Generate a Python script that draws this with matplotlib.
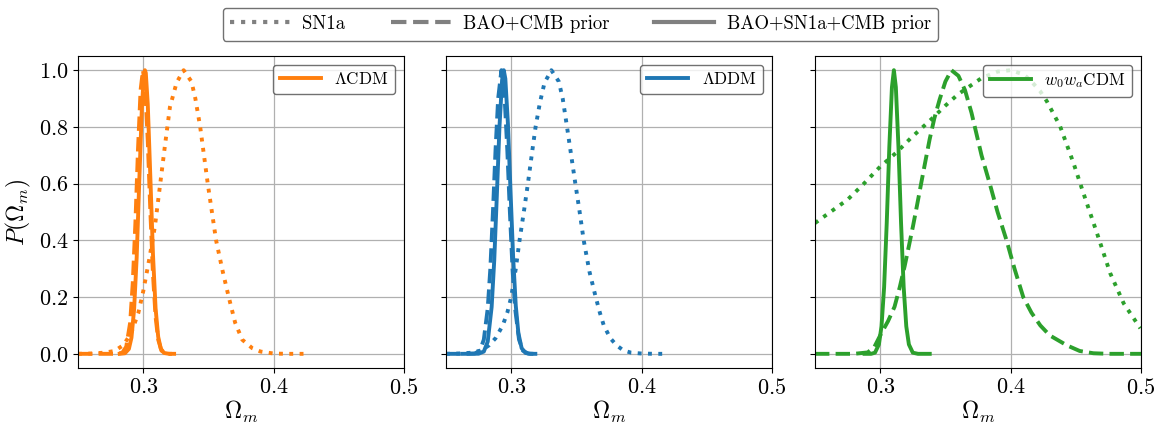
import matplotlib.pyplot as plt
from matplotlib.lines import Line2D

plt.rcParams.update({
    'font.family': 'serif',
    'font.serif': ['cmr10'],
    'mathtext.fontset': 'cm',
    'axes.formatter.use_mathtext': True,
    'axes.unicode_minus': False,
})

# LCDM
lcdm_sn_x = [0.25, 0.26, 0.27, 0.278, 0.2846, 0.2905, 0.2962, 0.30, 0.3045, 0.309, 0.3128, 0.3167,
             0.3205, 0.3256, 0.331, 0.337, 0.34, 0.3437, 0.3495, 0.3559, 0.361, 0.3656, 0.3705,
             0.3759, 0.3836, 0.39, 0.40, 0.41, 0.423]
lcdm_sn_y = [0.0, 0.001, 0.004, 0.01, 0.03, 0.07, 0.143, 0.22, 0.33, 0.45, 0.59, 0.735,
             0.87, 0.956, 1.0, 0.96, 0.9, 0.8, 0.6, 0.4, 0.29, 0.2, 0.11,
             0.05, 0.02, 0.008, 0.001, 0.0, 0.0]
lcdm_bao_x = [0.25, 0.27, 0.28, 0.284, 0.287, 0.290, 0.292, 0.294, 0.296, 0.298, 0.2998, 0.3015,
              0.3035, 0.3055, 0.3075, 0.3095, 0.3115, 0.314, 0.318, 0.322]
lcdm_bao_y = [0.0, 0.0, 0.0, 0.004, 0.025, 0.11, 0.25, 0.46, 0.72, 0.93, 1.0, 0.94,
              0.75, 0.50, 0.28, 0.13, 0.05, 0.011, 0.0, 0.0]
lcdm_all_x = [0.282, 0.286, 0.289, 0.291, 0.293, 0.295, 0.297, 0.299, 0.3005, 0.3013, 0.302, 0.3035,
              0.3055, 0.3075, 0.3095, 0.3115, 0.3135, 0.316, 0.320, 0.3237]
lcdm_all_y = [0.0, 0.002, 0.017, 0.057, 0.155, 0.34, 0.61, 0.87, 0.98, 1.0, 0.99, 0.88,
              0.62, 0.35, 0.16, 0.06, 0.018, 0.003, 0.0, 0.0]

# LDDM
lddm_sn_x = [0.25, 0.26, 0.27, 0.277, 0.283, 0.288, 0.2935, 0.297, 0.300, 0.3035, 0.3064, 0.31,
             0.3128, 0.316, 0.3187, 0.322, 0.3255, 0.3308, 0.3365, 0.3395, 0.3428, 0.346, 0.3492,
             0.3525, 0.3556, 0.360, 0.3648, 0.368, 0.371, 0.376, 0.3808, 0.386, 0.392, 0.40,
             0.41, 0.42]
lddm_sn_y = [0.0, 0.001, 0.004, 0.012, 0.03, 0.055, 0.1, 0.145, 0.2, 0.3, 0.4, 0.51,
             0.6, 0.71, 0.8, 0.885, 0.955, 1.0, 0.96, 0.9, 0.8, 0.7, 0.6,
             0.5, 0.4, 0.29, 0.2, 0.145, 0.1, 0.055, 0.03, 0.012, 0.004, 0.001,
             0.0, 0.0]
lddm_bao_x = [0.25, 0.265, 0.272, 0.276, 0.279, 0.282, 0.284, 0.286, 0.288, 0.290, 0.2925, 0.295,
              0.297, 0.299, 0.301, 0.303, 0.306, 0.309, 0.313, 0.317]
lddm_bao_y = [0.0, 0.0, 0.001, 0.011, 0.05, 0.16, 0.30, 0.50, 0.72, 0.90, 1.0, 0.90,
              0.72, 0.50, 0.30, 0.16, 0.05, 0.011, 0.001, 0.0]
lddm_all_x = [0.2625, 0.275, 0.279, 0.282, 0.285, 0.287, 0.289, 0.291, 0.293, 0.2943, 0.2955, 0.2975,
              0.2995, 0.3015, 0.3035, 0.3055, 0.308, 0.311, 0.3145, 0.3185]
lddm_all_y = [0.0, 0.0004, 0.008, 0.043, 0.165, 0.33, 0.56, 0.80, 0.965, 1.0, 0.97, 0.81,
              0.57, 0.34, 0.17, 0.073, 0.02, 0.003, 0.0, 0.0]

# w0waCDM
w0wa_sn_x = [0.25, 0.2751, 0.2875, 0.30, 0.3125, 0.3238, 0.3392, 0.35, 0.3597, 0.3777, 0.39, 0.40,
             0.41, 0.415, 0.4225, 0.4277, 0.4379, 0.4482, 0.4558, 0.4662, 0.4764, 0.4867, 0.4995]
w0wa_sn_y = [0.461, 0.544, 0.60, 0.66, 0.71, 0.762, 0.827, 0.875, 0.915, 0.972, 0.995, 1.0,
             0.985, 0.965, 0.927, 0.891, 0.803, 0.673, 0.567, 0.426, 0.284, 0.178, 0.09]
w0wa_bao_x = [0.25, 0.28, 0.2905, 0.2956, 0.3008, 0.306, 0.311, 0.315, 0.3187, 0.322, 0.3251, 0.3283,
              0.3315, 0.3347, 0.3379, 0.3415, 0.3456, 0.350, 0.3546, 0.36, 0.365, 0.37, 0.3777,
              0.384, 0.39, 0.3969, 0.403, 0.4097, 0.416, 0.4228, 0.43, 0.4431, 0.453, 0.4635,
              0.475, 0.5]
w0wa_bao_y = [0.0, 0.0, 0.005, 0.025, 0.072, 0.115, 0.166, 0.235, 0.308, 0.38, 0.449, 0.525,
              0.603, 0.68, 0.756, 0.83, 0.897, 0.96, 1.0, 0.98, 0.93, 0.85, 0.70,
              0.6, 0.5, 0.4, 0.3, 0.2, 0.145, 0.1, 0.065, 0.03, 0.01, 0.002,
              0.0, 0.0]
w0wa_all_x = [0.288, 0.293, 0.296, 0.299, 0.301, 0.303, 0.305, 0.307, 0.309, 0.3105, 0.312, 0.314,
              0.316, 0.318, 0.320, 0.322, 0.325, 0.329, 0.338]
w0wa_all_y = [0.0, 0.0, 0.004, 0.033, 0.097, 0.235, 0.46, 0.73, 0.94, 1.0, 0.94, 0.73,
              0.46, 0.235, 0.097, 0.033, 0.004, 0.0, 0.0]

panels = [
    (r'$\Lambda$CDM', '#ff7f0e', lcdm_sn_x, lcdm_sn_y, lcdm_bao_x, lcdm_bao_y, lcdm_all_x, lcdm_all_y),
    (r'$\Lambda$DDM', '#1f77b4', lddm_sn_x, lddm_sn_y, lddm_bao_x, lddm_bao_y, lddm_all_x, lddm_all_y),
    (r'$w_0w_a$CDM', '#2ca02c', w0wa_sn_x, w0wa_sn_y, w0wa_bao_x, w0wa_bao_y, w0wa_all_x, w0wa_all_y),
]

fig = plt.figure(figsize=(11.61, 4.25), dpi=100)
lefts = [78 / 1161, 446 / 1161, 815 / 1161]

for i, (name, c, sx, sy, bx, by, ax_, ay) in enumerate(panels):
    ax = fig.add_axes([lefts[i], 57 / 425, 326 / 1161, 312 / 425])
    ax.plot(sx, sy, ':', color=c, lw=2.8)
    ax.plot(bx, by, '--', color=c, lw=2.8)
    line, = ax.plot(ax_, ay, '-', color=c, lw=2.8)
    ax.set_xlim(0.25, 0.5)
    ax.set_ylim(-0.05, 1.05)
    ax.set_xticks([0.3, 0.4, 0.5])
    ax.set_yticks([0.0, 0.2, 0.4, 0.6, 0.8, 1.0])
    ax.grid(True, color='#b0b0b0', lw=0.9)
    ax.tick_params(labelsize=16)
    ax.set_xlabel(r'$\Omega_m$', fontsize=17, labelpad=1)
    if i == 0:
        ax.set_ylabel(r'$P(\Omega_m)$', fontsize=17)
    else:
        ax.set_yticklabels([])
    ax.legend([line], [name], loc='upper right', fontsize=12.3, handlelength=2.4,
              edgecolor='0.3', fancybox=True)

handles = [
    Line2D([], [], color='gray', ls=':', lw=3, label='SN1a'),
    Line2D([], [], color='gray', ls='--', lw=3, label='BAO+CMB prior'),
    Line2D([], [], color='gray', ls='-', lw=3, label='BAO+SN1a+CMB prior'),
]
fig.legend(handles=handles, loc='upper center', bbox_to_anchor=(0.5, 1.0), ncol=3,
           fontsize=13.5, handlelength=3.2, columnspacing=2.4, handletextpad=0.66,
           borderaxespad=0.4, edgecolor='0.3', fancybox=True)

plt.savefig('out.png', dpi=100)
plt.close()
